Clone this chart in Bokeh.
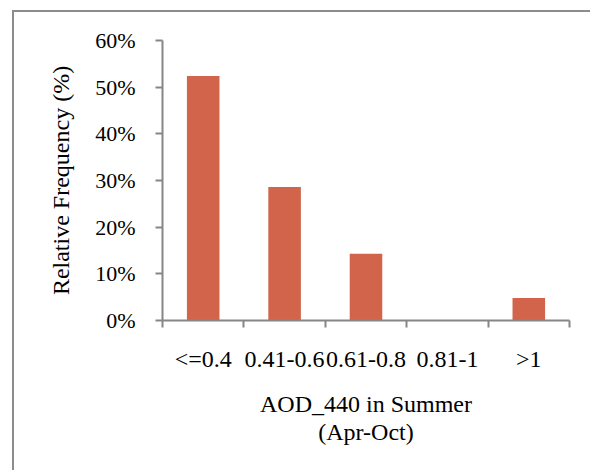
from bokeh.plotting import figure
from bokeh.models import FixedTicker, NumeralTickFormatter, Range1d
from bokeh.embed import file_html
from bokeh.resources import INLINE

# ---- data ----
categories = ["<=0.4", "0.41-0.6", "0.61-0.8", "0.81-1", ">1"]
frequency = [0.524, 0.286, 0.143, 0.0, 0.048]
y_ticks = [0.0, 0.1, 0.2, 0.3, 0.4, 0.5, 0.6]
x_title = ["AOD_440 in Summer", "(Apr-Oct)"]
y_title = "Relative Frequency (%)"

FONT = "Liberation Serif"
GRAY = "#868686"
BAR = "#D1644A"

W, H = 578, 460
n = len(categories)
centers = [i + 0.5 for i in range(n)]
bounds = list(range(n + 1))

p = figure(width=W, height=H, output_backend="svg", toolbar_location=None,
           x_range=Range1d(0, n), y_range=Range1d(y_ticks[0], y_ticks[-1]),
           min_border_left=148, min_border_right=23, min_border_top=28,
           min_border_bottom=152)
p.styles = {"margin-left": "12px", "margin-top": "10px",
            "border-left": "2px solid #8c8c8c", "border-top": "2px solid #8c8c8c"}
p.outline_line_color = None
p.grid.visible = False
p.background_fill_color = "white"
p.border_fill_color = "white"

p.vbar(x=centers, top=frequency, width=0.4, fill_color=BAR, line_color=None)

xa = p.xaxis[0]
xa.ticker = FixedTicker(ticks=centers, minor_ticks=bounds)
xa.major_label_overrides = {c: lab for c, lab in zip(centers, categories)}
xa.major_tick_in = 0
xa.major_tick_out = 0
xa.minor_tick_in = 0
xa.minor_tick_out = 7
xa.minor_tick_line_color = GRAY
xa.minor_tick_line_width = 2
xa.axis_line_color = GRAY
xa.axis_line_width = 2
xa.major_label_standoff = 18
xa.major_label_text_font = FONT
xa.major_label_text_font_size = "24px"
xa.major_label_text_color = "black"
xa.axis_label = "\n".join(x_title)
xa.axis_label_text_font = FONT
xa.axis_label_text_font_size = "24px"
xa.axis_label_text_font_style = "normal"
xa.axis_label_text_color = "black"
xa.axis_label_text_line_height = 1.1
xa.axis_label_standoff = 16

ya = p.yaxis[0]
ya.ticker = FixedTicker(ticks=y_ticks)
ya.formatter = NumeralTickFormatter(format="0%")
ya.major_tick_in = 0
ya.major_tick_out = 7
ya.major_tick_line_color = GRAY
ya.major_tick_line_width = 2
ya.minor_tick_line_color = None
ya.axis_line_color = GRAY
ya.axis_line_width = 2
ya.major_label_standoff = 20
ya.major_label_text_font = FONT
ya.major_label_text_font_size = "22px"
ya.major_label_text_color = "black"
ya.axis_label = y_title
ya.axis_label_text_font = FONT
ya.axis_label_text_font_size = "24px"
ya.axis_label_text_font_style = "normal"
ya.axis_label_text_color = "black"
ya.axis_label_standoff = 18

open("out.html", "w").write(file_html(p, INLINE))
